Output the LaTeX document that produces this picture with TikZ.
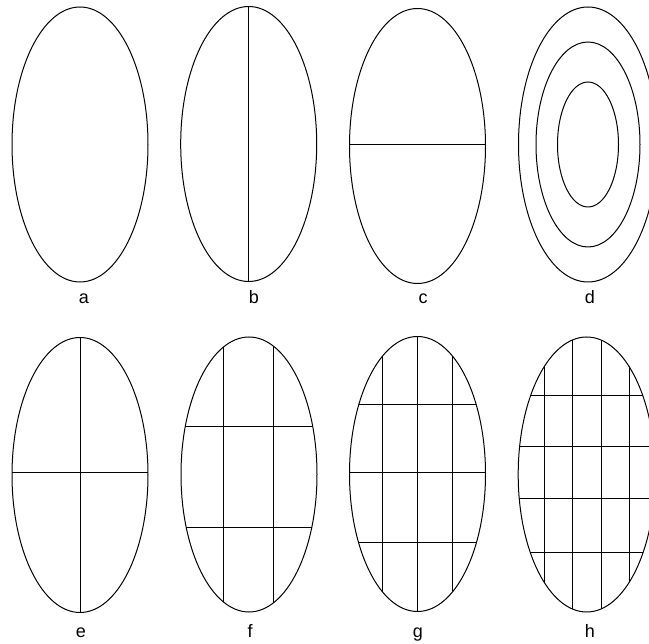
\documentclass[tikz,border=0pt]{standalone}
\usepackage{fontspec}
\setmainfont{Liberation Sans}
\begin{document}
\begin{tikzpicture}[x=1pt, y=-1pt,
      oval/.style={draw=black, line width=1pt},
      cut/.style={draw=black, line width=1pt},
      lbl/.style={anchor=base, inner sep=0pt, font=\fontsize{18}{20}\selectfont}]
    \useasboundingbox (0,0) rectangle (649,644);
    \clip (0,0) rectangle (649,644);
    % centres of the ovals
    \coordinate (ca) at (80,144.5);
    \coordinate (cb) at (248.7,144);
    \coordinate (cc) at (417.5,146);
    \coordinate (cd) at (588,144.5);
    \coordinate (ce) at (80,475);
    \coordinate (cf) at (249,474.5);
    \coordinate (cg) at (417.5,474);
    \coordinate (ch) at (586.7,474.5);
    % top row
    \draw[oval] (ca) ellipse [x radius=68, y radius=137.5];
    \draw[oval] (cb) ellipse [x radius=68, y radius=137.5];
    \draw[cut] (248.7,6.5) -- (248.7,281.5);
    \draw[oval] (cc) ellipse [x radius=68, y radius=137.5];
    \begin{scope}
      \clip (cc) ellipse [x radius=68, y radius=137.5];
      \draw[cut] (340,145) -- (500,145);
    \end{scope}
    \draw[oval] (cd) ellipse [x radius=69.5, y radius=137.5];
    \draw[oval] (cd) ellipse [x radius=52, y radius=102.5];
    \draw[oval] (cd) ellipse [x radius=30.5, y radius=62.5];
    % bottom row
    \begin{scope}
      \clip (ce) ellipse [x radius=68, y radius=137.5];
      \draw[cut] (80,330) -- (80,620);
      \draw[cut] (0,472.5) -- (170,472.5);
    \end{scope}
    \draw[oval] (ce) ellipse [x radius=68, y radius=137.5];
    \begin{scope}
      \clip (cf) ellipse [x radius=68, y radius=137.5];
      \foreach \x in {223.5,273.5} \draw[cut] (\x,330) -- (\x,620);
      \foreach \y in {426.5,528} \draw[cut] (170,\y) -- (330,\y);
    \end{scope}
    \draw[oval] (cf) ellipse [x radius=68, y radius=137.5];
    \begin{scope}
      \clip (cg) ellipse [x radius=68, y radius=137.5];
      \foreach \x in {382.7,417.7,452.7} \draw[cut] (\x,330) -- (\x,620);
      \foreach \y in {405,472.5,542.7} \draw[cut] (340,\y) -- (500,\y);
    \end{scope}
    \draw[oval] (cg) ellipse [x radius=68, y radius=137.5];
    \begin{scope}
      \clip (ch) ellipse [x radius=68.5, y radius=137.5];
      \foreach \x in {544.3,572.7,601,629.3} \draw[cut] (\x,330) -- (\x,620);
      \foreach \y in {396,446.7,498.3,552.7} \draw[cut] (500,\y) -- (660,\y);
    \end{scope}
    \draw[oval] (ch) ellipse [x radius=68.5, y radius=137.5];
    % labels
    \node[lbl] (la) at (84,304) {a};
    \node[lbl] (lb) at (254,304) {b};
    \node[lbl] (lc) at (423,304) {c};
    \node[lbl] (ld) at (590,304) {d};
    \node[lbl] (le) at (81,638) {e};
    \node[lbl] (lf) at (250,638) {f};
    \node[lbl] (lg) at (418,638) {g};
    \node[lbl] (lh) at (590,638) {h};
  \end{tikzpicture}
\end{document}
